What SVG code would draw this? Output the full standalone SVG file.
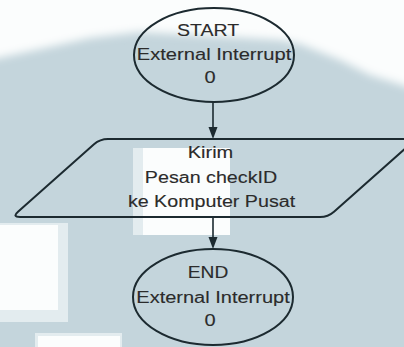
<svg xmlns="http://www.w3.org/2000/svg" width="404" height="347" viewBox="0 0 404 347">
  <defs>
    <style>
      .shape { fill: none; stroke: #1c2a30; stroke-width: 2; }
      .conn { fill: none; stroke: #1c2a30; stroke-width: 1.6; }
      .lbl { font-family: "Liberation Sans", Arial, sans-serif; font-size: 16px; fill: #2b2b2b; stroke: #2b2b2b; stroke-width: 0.12; text-anchor: middle; }
      .patch { fill: #fbfdfd; }
      .fringe { fill: #e3ecef; }
    </style>
    <filter id="soft" x="-10%" y="-10%" width="120%" height="120%">
      <feGaussianBlur stdDeviation="4"/>
    </filter>
  </defs>

  <!-- background -->
  <rect x="0" y="0" width="404" height="347" fill="#c4d5dc"/>
  <polygon class="patch" filter="url(#soft)" points="-20,-20 424,-20 424,92 370,75 340,60 300,44 280,40 140,32 90,38 45,48 -20,62"/>
  <rect class="fringe" x="133" y="148" width="10" height="87"/>
  <rect class="patch" x="143" y="148" width="87" height="87"/>
  <rect class="fringe" x="0" y="223" width="68" height="99"/>
  <rect class="patch" x="0" y="225" width="58" height="85"/>
  <rect class="fringe" x="35" y="333" width="87" height="14"/>
  <rect class="patch" x="38" y="336" width="82" height="11"/>

  <g id="connectors">
    <line class="conn" x1="213" y1="102" x2="213" y2="128"/>
    <path d="M208.5,127 L217.5,127 L213,139 Z" fill="#1c2a30"/>
    <line class="conn" x1="213" y1="217" x2="213" y2="238"/>
    <path d="M208.5,237 L217.5,237 L213,249 Z" fill="#1c2a30"/>
  </g>

  <g id="start">
    <ellipse class="shape" cx="214" cy="55" rx="80" ry="47"/>
    <text class="lbl" transform="translate(208,36) scale(1.22,1)">START</text>
    <text class="lbl" transform="translate(214,60) scale(1.26,1)">External Interrupt</text>
    <text class="lbl" transform="translate(210,83) scale(1.25,1)">0</text>
  </g>

  <g id="send">
    <path class="shape" d="M108,139 L408,139 Q416,139 410,144.3 L334,211.7 Q328,217 320,217 L20,217 Q12,217 18,211.7 L94,144.3 Q100,139 108,139 Z"/>
    <text class="lbl" transform="translate(210.5,158) scale(1.25,1)">Kirim</text>
    <text class="lbl" transform="translate(211,183) scale(1.23,1)">Pesan checkID</text>
    <text class="lbl" transform="translate(211.5,207) scale(1.23,1)">ke Komputer Pusat</text>
  </g>

  <g id="end">
    <ellipse class="shape" cx="213" cy="297" rx="80" ry="48"/>
    <text class="lbl" transform="translate(208,278) scale(1.2,1)">END</text>
    <text class="lbl" transform="translate(213,303) scale(1.25,1)">External Interrupt</text>
    <text class="lbl" transform="translate(210,326) scale(1.25,1)">0</text>
  </g>
</svg>
